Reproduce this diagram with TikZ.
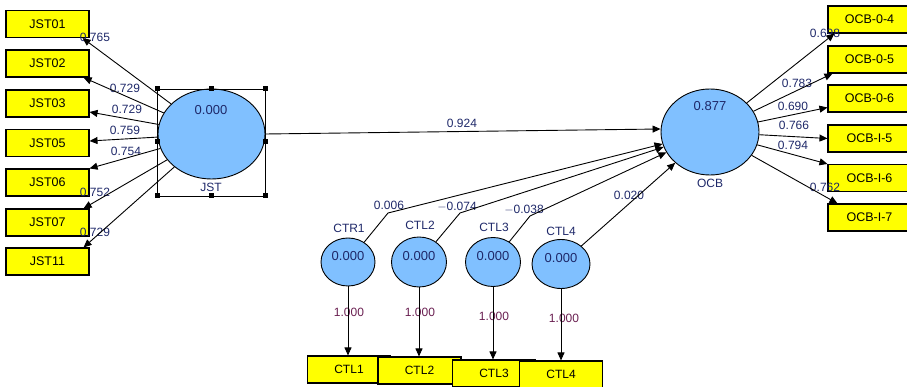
\documentclass[tikz,border=0pt]{standalone}
\usepackage{fontspec}
\setmainfont{Liberation Sans}
\usetikzlibrary{shapes.geometric, arrows.meta}

\definecolor{lvblue}{RGB}{128,192,255}
\definecolor{mvyellow}{RGB}{255,255,0}
\definecolor{coefnavy}{RGB}{30,40,105}
\definecolor{wtpurple}{RGB}{105,30,80}

\begin{document}
\begin{tikzpicture}[x=1pt, y=-1pt, line width=0.9pt,
  every node/.style={font=\fontsize{12}{14}\selectfont},
  mv/.style={draw, line width=1.1pt, fill=mvyellow, minimum width=83pt, minimum height=27pt,
    inner sep=0pt, font=\fontsize{12.5}{14}\selectfont},
  lv/.style={draw, fill=lvblue, ellipse, inner sep=0pt},
  arr/.style={-{Triangle[length=8pt,width=7pt]}},
  coef/.style={text=coefnavy, inner sep=0pt},
  lvval/.style={coef, font=\fontsize{13}{15}\selectfont},
  wt/.style={text=wtpurple, inner sep=0pt},
  handle/.style={fill=black, minimum size=5pt, inner sep=0pt}
]
  \useasboundingbox (0,0) rectangle (907,387);

  % 潜变量
  \node[lv, minimum width=107pt, minimum height=90pt] (JST) at (211.5,134) {};
  \node[lvval] (JSTv) at (211,110) {0.000};
  \node[coef] (JSTn) at (211,187) {JST};
  \node[lv, minimum width=98pt, minimum height=86pt] (OCB) at (710,132) {};
  \node[lvval] (OCBv) at (710,106) {0.877};
  \node[coef] (OCBn) at (710,183) {OCB};

  \foreach \id/\x/\y/\w/\h in {CTR1/348/262/54/48, CTL2/419/262/55/50,
      CTL3/493/262/55/49, CTL4/561/264/58/49}
  {
    \node[lv, minimum width=\w pt, minimum height=\h pt] (\id) at (\x,\y) {};
    \node[lvval] (\id v) at (\x,\y-6) {0.000};
  }
  \node[coef] (CTR1n) at (349,228) {CTR1};
  \node[coef] (CTL2n) at (420,225) {CTL2};
  \node[coef] (CTL3n) at (494,227) {CTL3};
  \node[coef] (CTL4n) at (561,231) {CTL4};

  % 选中框
  \draw[line width=0.8pt] (157,89) rectangle (265,196);
  \foreach \x/\y [count=\i] in {157/89, 211/89, 265/89, 157/142, 265/142, 157/196, 211/196, 265/196}
    \node[handle] (h\i) at (\x,\y) {};

  % 指标方框
  \foreach \name/\y in {JST01/24, JST02/63.5, JST03/103.5, JST05/143, JST06/182.5, JST07/222.5, JST11/261.5}
    \node[mv] (\name) at (47.5,\y) {\name};
  \foreach \id/\txt/\y in {o04/OCB-0-4/19.5, o05/OCB-0-5/59.5, o06/OCB-0-6/98.5,
      oi5/OCB-I-5/138.5, oi6/OCB-I-6/178, oi7/OCB-I-7/217.5}
    \node[mv] (\id) at (869.5,\y) {\txt};
  \foreach \id/\x/\y in {CTL1/349/369.5, CTLb2/419.5/370.5, CTLb3/494/373.5, CTLb4/561/374.5}
    \node[mv] (\id) at (\x,\y) {};
  \node (CTL1t) at (CTL1) {CTL1};
  \node (CTL2t) at (CTLb2) {CTL2};
  \node (CTL3t) at (CTLb3) {CTL3};
  \node (CTL4t) at (CTLb4) {CTL4};

  % 路径系数与载荷
  \foreach \lab/\x/\y [count=\i] in {0.765/95/37, 0.729/125/88, 0.729/127/109, 0.759/125/130,
      0.754/126/151, 0.752/95/192, 0.729/95/232}
    \node[coef] (wj\i) at (\x,\y) {\lab};
  \foreach \lab/\x/\y [count=\i] in {0.698/825/33, 0.783/797/83, 0.690/793/106, 0.766/794/125,
      0.794/793/145, 0.762/825/187}
    \node[coef] (wo\i) at (\x,\y) {\lab};
  \node[coef] (p1) at (462,123) {0.924};
  \node[coef] (p2) at (389,205) {0.006};
  \node[coef] (p3) at (457,207) {$-$0.074};
  \node[coef] (p4) at (524,210) {$-$0.038};
  \node[coef] (p5) at (629,195) {0.020};
  \foreach \x/\y [count=\i] in {349/312, 420/312, 494/316, 564/318}
    \node[wt] (wc\i) at (\x,\y) {1.000};

  % JST 的载荷
  \draw[arr] (JST) -- ([xshift=-7pt]JST01.south east);
  \draw[arr] (JST) -- ([xshift=-6pt]JST02.south east);
  \draw[arr] (JST) -- ([yshift=-8.5pt]JST03.east);
  \draw[arr] (JST) -- ([yshift=2pt]JST05.east);
  \draw[arr] (JST) -- (JST06.north east);
  \draw[arr] (JST) -- ([xshift=-6pt]JST07.north east);
  \draw[arr] (JST) -- ([xshift=-6pt]JST11.north east);

  % OCB 的载荷
  \draw[arr] (OCB) -- ([xshift=7pt]o04.south west);
  \draw[arr] (OCB) -- ([xshift=5pt]o05.south west);
  \draw[arr] (OCB) -- ([yshift=-9pt]o06.west);
  \draw[arr] (OCB) -- (oi5.west);
  \draw[arr] (OCB) -- (oi6.north west);
  \draw[arr] (OCB) -- ([xshift=10pt]oi7.north west);

  % 结构路径
  \draw[arr] (JST.east) -- ([yshift=3pt]OCB.west);
  \coordinate (b1) at (388,213);
  \coordinate (b2) at (460,213);
  \coordinate (b3) at (530,216);
  \draw[arr] (CTR1) -- (b1) -- (OCB);
  \draw[arr] (CTL2) -- (b2) -- (OCB);
  \draw[arr] (CTL3) -- (b3) -- (OCB);
  \draw[arr] (CTL4) -- (OCB);

  % 控制变量的单指标
  \draw[arr] (CTR1.south) -- (CTR1.south |- CTL1.north);
  \draw[arr] (CTL2.south) -- (CTL2.south |- CTLb2.north);
  \draw[arr] (CTL3.south) -- (CTL3.south |- CTLb3.north);
  \draw[arr] (CTL4.south) -- (CTL4.south |- CTLb4.north);
\end{tikzpicture}
\end{document}
